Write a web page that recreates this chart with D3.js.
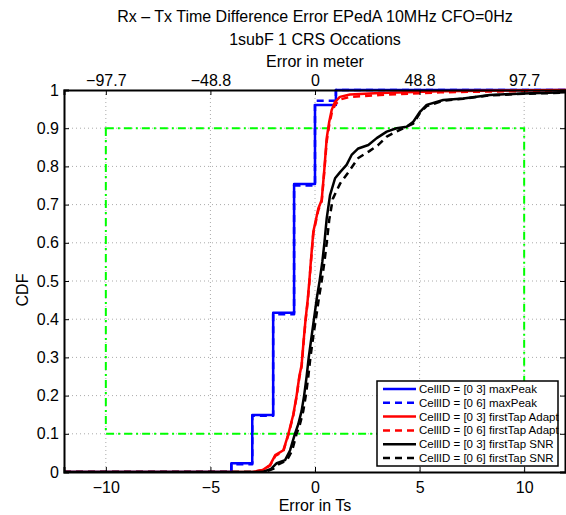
<!DOCTYPE html>
<html><head><meta charset="utf-8">
<script src="https://cdn.jsdelivr.net/npm/d3@7"></script>
<style>
body{margin:0;background:#fff;}
text{font-family:"Liberation Sans",Arial,Helvetica,sans-serif;}
</style></head>
<body><svg id="c" width="566" height="515"></svg>
<script>
const titleLines = ["Rx \u2013 Tx Time Difference Error EPedA 10MHz CFO=0Hz", "1subF 1 CRS Occations"];
const xLabel = "Error in Ts";
const topLabel = "Error in meter";
const yLabel = "CDF";
const xTicks = [-10, -5, 0, 5, 10];
const topTickLabels = ["\u221297.7", "\u221248.8", "0", "48.8", "97.7"];
const yTicks = [0, 0.1, 0.2, 0.3, 0.4, 0.5, 0.6, 0.7, 0.8, 0.9, 1];
const boxX = [-10, 10];
const boxY = [0.1, 0.9];

const maxPeak03 = [[-12,0],[-4,0.023],[-3,0.149],[-2,0.417],[-1,0.754],[0,0.961],[1,1],[12,1]];
const maxPeak06 = [[-12,0],[-4,0.02],[-3,0.147],[-2,0.413],[-1,0.75],[0,0.972],[1,1],[12,1]];
const adapt03 = [[-12,0],[-3,0],[-2.5,0.005],[-2.15,0.018],[-1.9,0.044],[-1.51,0.057],[-1.27,0.10],[-1.04,0.15],[-0.88,0.2],[-0.75,0.25],[-0.64,0.28],[-0.55,0.34],[-0.45,0.4],[-0.35,0.45],[-0.27,0.5],[-0.2,0.55],[-0.08,0.629],[0.16,0.69],[0.32,0.712],[0.45,0.795],[0.56,0.874],[0.68,0.917],[0.8,0.948],[0.96,0.969],[1.19,0.982],[1.67,0.988],[3.1,0.992],[6,0.997],[12,1]];
const adapt06 = [[-12,0],[-3,0],[-2.5,0.005],[-2.15,0.017],[-1.9,0.042],[-1.51,0.055],[-1.27,0.098],[-1.04,0.147],[-0.88,0.197],[-0.75,0.247],[-0.64,0.276],[-0.55,0.336],[-0.45,0.396],[-0.35,0.446],[-0.27,0.496],[-0.2,0.546],[-0.08,0.625],[0.16,0.686],[0.32,0.708],[0.45,0.79],[0.56,0.866],[0.68,0.908],[0.8,0.94],[0.96,0.962],[1.19,0.975],[1.67,0.982],[3.1,0.987],[6,0.994],[12,0.999]];
const snr03 = [[-12,0],[-2.5,0],[-2.1,0.008],[-1.83,0.023],[-1.43,0.031],[-1.19,0.057],[-0.96,0.1],[-0.8,0.125],[-0.64,0.16],[-0.52,0.2],[-0.4,0.25],[-0.3,0.3],[-0.15,0.36],[-0.05,0.4],[0.1,0.46],[0.22,0.5],[0.35,0.55],[0.45,0.6],[0.56,0.664],[0.72,0.725],[0.96,0.769],[1.2,0.785],[1.51,0.804],[1.75,0.83],[2.07,0.847],[2.55,0.856],[2.95,0.874],[3.43,0.891],[3.9,0.9],[4.38,0.904],[4.7,0.917],[5.02,0.943],[5.34,0.961],[6.13,0.974],[7.09,0.978],[8.36,0.987],[9.95,0.991],[12,0.994]];
const snr06 = [[-12,0],[-2.4,0],[-2.0,0.008],[-1.75,0.02],[-1.35,0.03],[-1.1,0.055],[-0.88,0.1],[-0.72,0.125],[-0.56,0.16],[-0.44,0.2],[-0.32,0.25],[-0.22,0.3],[-0.07,0.36],[0.04,0.4],[0.2,0.46],[0.32,0.5],[0.45,0.55],[0.56,0.6],[0.68,0.66],[0.85,0.715],[1.2,0.755],[1.6,0.785],[2.07,0.822],[2.6,0.84],[3.0,0.855],[3.43,0.878],[4.22,0.9],[4.7,0.912],[5.02,0.94],[5.34,0.958],[6.13,0.972],[7.09,0.977],[8.36,0.986],[9.95,0.99],[12,0.993]];

const seriesNames = ["CellID = [0 3] maxPeak","CellID = [0 6] maxPeak","CellID = [0 3] firstTap Adapt","CellID = [0 6] firstTap Adapt","CellID = [0 3] firstTap SNR","CellID = [0 6] firstTap SNR"];
const seriesData = [maxPeak03, maxPeak06, adapt03, adapt06, snr03, snr06];
const seriesColors = ["#0000ff","#0000ff","#ff0000","#ff0000","#000000","#000000"];
const seriesDashed = [false,true,false,true,false,true];
const seriesStep = [true,true,false,false,false,false];

const svg = d3.select("#c");
const L = 64, R = 566, T = 90, B = 472;
const x = d3.scaleLinear().domain([-12, 12]).range([L, R]);
const y = d3.scaleLinear().domain([0, 1]).range([B, T]);

// grid
const grid = svg.append("g").attr("stroke","#aaa").attr("stroke-width",1).attr("stroke-dasharray","1,3");
xTicks.forEach(t => grid.append("line").attr("x1",x(t)).attr("x2",x(t)).attr("y1",T).attr("y2",B));
yTicks.slice(1,-1).forEach(t => grid.append("line").attr("x1",L).attr("x2",R).attr("y1",y(t)).attr("y2",y(t)));

// green box
svg.append("rect").attr("x",x(boxX[0])).attr("y",y(boxY[1])).attr("width",x(boxX[1])-x(boxX[0])).attr("height",y(boxY[0])-y(boxY[1]))
  .attr("fill","none").attr("stroke","#00ff00").attr("stroke-width",2).attr("stroke-dasharray","8,4,2,4");

// clip
svg.append("clipPath").attr("id","clip").append("rect").attr("x",L).attr("y",T-3).attr("width",R-L).attr("height",B-T+3);

const plot = svg.append("g").attr("clip-path","url(#clip)");
seriesData.forEach((d,i) => {
  const line = d3.line().x(p=>x(p[0])).y(p=>y(p[1])).curve(seriesStep[i] ? d3.curveStepAfter : d3.curveLinear);
  plot.append("path").attr("d", line(d)).attr("fill","none").attr("stroke",seriesColors[i]).attr("stroke-width",2.5)
    .attr("stroke-dasharray", seriesDashed[i] ? "7,5" : null).attr("stroke-linejoin","round");
});

// axes
const fs = 16;
const gBottom = svg.append("g").attr("transform",`translate(0,${B})`).call(d3.axisBottom(x).tickValues(xTicks).tickSize(-5).tickPadding(10).tickFormat(d=>d<0?"\u2212"+(-d):d));
const gTop = svg.append("g").attr("transform",`translate(0,${T})`).call(d3.axisTop(x).tickValues(xTicks).tickSize(-5).tickPadding(4).tickFormat((d,i)=>topTickLabels[i]));
const gLeft = svg.append("g").attr("transform",`translate(${L},0)`).call(d3.axisLeft(y).tickValues(yTicks).tickSize(-5).tickPadding(5).tickFormat(d=>d===0?"0":d===1?"1":d3.format(".1f")(d)));
const gRight = svg.append("g").attr("transform",`translate(${R-1},0)`).call(d3.axisRight(y).tickValues(yTicks).tickSize(-5).tickFormat(""));
[gBottom, gTop, gLeft, gRight].forEach(g => {
  g.select(".domain").attr("stroke","#000").attr("stroke-width",2);
  g.selectAll(".tick line").attr("stroke","#000").attr("stroke-width",1);
  g.selectAll("text").attr("font-size",fs).attr("fill","#000").attr("font-family","'Liberation Sans',Arial,sans-serif");
});

// titles
svg.append("text").attr("x",315).attr("y",22).attr("text-anchor","middle").attr("font-size",16).text(titleLines[0]);
svg.append("text").attr("x",315).attr("y",45).attr("text-anchor","middle").attr("font-size",16).text(titleLines[1]);
svg.append("text").attr("x",315).attr("y",67).attr("text-anchor","middle").attr("font-size",16).text(topLabel);
svg.append("text").attr("x",315).attr("y",511).attr("text-anchor","middle").attr("font-size",16).text(xLabel);
svg.append("text").attr("transform","translate(28,290) rotate(-90)").attr("text-anchor","middle").attr("font-size",16).text(yLabel);

// legend
const lg = svg.append("g");
const lx = 377, ly = 381, lw = 181, lh = 85;
lg.append("rect").attr("x",lx).attr("y",ly).attr("width",lw).attr("height",lh).attr("fill","#fff").attr("stroke","#000").attr("stroke-width",1.5);
seriesNames.forEach((n,i) => {
  const yy = 389 + i*13.8;
  lg.append("line").attr("x1",383).attr("x2",416).attr("y1",yy).attr("y2",yy).attr("stroke",seriesColors[i]).attr("stroke-width",2.5)
    .attr("stroke-dasharray", seriesDashed[i] ? "7,5" : null);
  lg.append("text").attr("x",419).attr("y",yy+4).attr("font-size",11.5).text(n);
});
</script></body></html>
